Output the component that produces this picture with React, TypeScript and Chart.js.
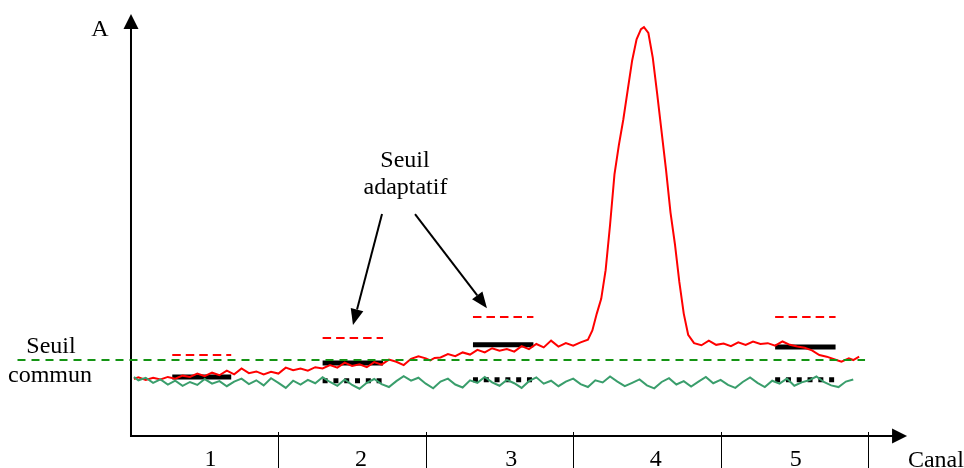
import React, { useEffect, useRef } from "react";
import { Chart, registerables } from "chart.js";
Chart.register(...registerables);

// Channel axis
const channelLabels = ["1", "2", "3", "4", "5"];
const channelBounds = [1, 2, 3, 4, 5];
const xAxisEnd = 5.265;
const yAxisTop = 100;

// Red signal (channel units, amplitude)
const redX = [0.02, 0.05, 0.10, 0.15, 0.20, 0.25, 0.30, 0.35, 0.40, 0.45, 0.50, 0.55, 0.60, 0.65, 0.70, 0.75, 0.80, 0.85, 0.90, 0.95,
  1.00, 1.05, 1.10, 1.15, 1.20, 1.25, 1.30, 1.35, 1.40, 1.45, 1.50, 1.55, 1.60, 1.65, 1.70, 1.75, 1.80, 1.85, 1.90, 1.95,
  2.00, 2.03, 2.06, 2.10, 2.15, 2.20, 2.25, 2.30, 2.35, 2.40, 2.45, 2.50, 2.55, 2.60, 2.65, 2.70, 2.75, 2.80, 2.85, 2.90, 2.95,
  3.00, 3.05, 3.10, 3.13, 3.16, 3.19, 3.22, 3.25, 3.28, 3.31, 3.34, 3.37, 3.40, 3.43, 3.46, 3.48, 3.51, 3.54, 3.57, 3.60,
  3.63, 3.66, 3.69, 3.72, 3.75, 3.78, 3.82, 3.87, 3.92, 3.97, 4.02, 4.07, 4.12, 4.17, 4.22, 4.27, 4.32, 4.37, 4.42, 4.47,
  4.52, 4.57, 4.62, 4.67, 4.72, 4.77, 4.82, 4.87, 4.90, 4.94];
const redY = [13.5, 13.9, 13.3, 13.8, 13.4, 14.0, 13.6, 14.3, 14.0, 14.8, 14.2, 15.0, 14.4, 15.5, 14.6, 16.0, 14.9, 15.3, 14.6, 15.2,
  14.8, 16.2, 15.6, 16.0, 15.5, 16.3, 16.0, 16.8, 16.2, 17.4, 16.6, 17.0, 16.3, 17.5, 16.9, 18.1, 17.6, 16.8, 18.3, 18.9,
  18.4, 17.9, 18.5, 18.6, 19.4, 18.9, 19.8, 19.3, 20.4, 19.8, 20.8, 20.2, 20.6, 20.0, 21.3, 20.6, 21.8, 21.0, 22.6, 21.2, 22.0,
  21.4, 22.2, 22.8, 25.0, 29.0, 32.5, 39.3, 50.0, 62.0, 69.0, 75.0, 82.0, 89.0, 94.0, 96.4, 96.9, 95.5, 89.6, 81.0, 72.0,
  63.0, 53.0, 45.5, 36.5, 29.0, 24.0, 22.0, 21.5, 22.6, 21.6, 21.9, 21.3, 22.2, 21.6, 22.4, 21.8, 22.0, 21.4, 22.4, 21.6,
  21.2, 20.9, 20.3, 19.2, 18.8, 18.2, 17.6, 18.4, 18.0, 18.8];

// Green signal
const greenX = [0.02, 0.05, 0.10, 0.15, 0.20, 0.25, 0.30, 0.35, 0.40, 0.45, 0.50, 0.55, 0.60, 0.65, 0.70, 0.75, 0.80, 0.85, 0.90, 0.95,
  1.00, 1.05, 1.10, 1.15, 1.20, 1.25, 1.30, 1.35, 1.40, 1.45, 1.50, 1.55, 1.60, 1.65, 1.70, 1.75, 1.80, 1.85, 1.90, 1.95,
  2.00, 2.05, 2.10, 2.15, 2.20, 2.25, 2.30, 2.35, 2.40, 2.45, 2.50, 2.55, 2.60, 2.65, 2.70, 2.75, 2.80, 2.85, 2.90, 2.95,
  3.00, 3.05, 3.10, 3.15, 3.20, 3.25, 3.30, 3.35, 3.40, 3.45, 3.50, 3.55, 3.60, 3.65, 3.70, 3.75, 3.80, 3.85, 3.90, 3.95,
  4.00, 4.05, 4.10, 4.15, 4.20, 4.25, 4.30, 4.35, 4.40, 4.45, 4.50, 4.55, 4.60, 4.65, 4.70, 4.75, 4.80, 4.85, 4.90];
const greenY = [14.0, 13.2, 13.8, 12.6, 13.4, 12.2, 13.1, 11.9, 12.8, 12.1, 13.5, 12.4, 13.0, 11.8, 12.9, 13.6, 12.3, 13.2, 12.0, 13.7,
  12.6, 11.4, 13.1, 12.2, 13.3, 12.5, 13.9, 12.8, 11.9, 13.4, 12.1, 11.2, 12.6, 13.5, 12.3, 11.6, 13.0, 14.2, 13.1, 13.8,
  12.4, 11.3, 12.9, 13.6, 12.2, 11.5, 13.2, 12.6, 14.0, 12.7, 11.9, 13.3, 12.5, 11.4, 13.0, 13.9, 12.4, 13.1, 11.8, 12.9,
  13.6, 12.3, 11.6, 13.2, 12.7, 14.1, 12.9, 11.8, 12.6, 13.4, 12.0, 11.3, 12.8, 13.7, 12.2, 13.0, 11.7, 12.9, 14.0, 12.5,
  13.3, 12.1, 11.4, 12.8, 13.9, 12.6, 11.6, 13.1, 12.4, 13.6, 11.9, 12.7, 13.2, 14.1, 12.8, 12.0, 11.6, 12.9, 13.4];

// Thresholds per channel segment
const segStart = [0.28, 1.30, 2.32, 4.37];
const segEnd = [0.68, 1.71, 2.73, 4.78];
const solidLevel = [14.0, 17.3, 21.6, 21.1];
const dottedLevel = [null, 13.1, 13.3, 13.3];
const redDashLevel = [19.2, 23.2, 28.2, 28.2];
const commonThreshold = 18.0;
const commonFrom = -0.77;
const commonTo = 4.98;

// Text annotations (data coordinates, alphabetic baseline)
const textItems = [
  { text: "A", x: -0.21, y: 94.8, align: "center" },
  { text: "Seuil", x: -0.543, y: 19.67, align: "center" },
  { text: "commun", x: -0.5495, y: 12.8, align: "center" },
  { text: "Seuil", x: 1.859, y: 63.74, align: "center" },
  { text: "adaptatif", x: 1.862, y: 57.35, align: "center" },
  { text: "Canal", x: 5.271, y: -7.35, align: "left" },
];
const channelLabelX = [0.54, 1.56, 2.58, 3.56, 4.51];
const channelLabelY = -7.11;
const annotArrows = [
  { fx: 1.703, fy: 52.6, tx: 1.506, ty: 26.3 },
  { fx: 1.927, fy: 52.6, tx: 2.415, ty: 30.3 },
];

const FONT = "24px 'Liberation Serif', 'Times New Roman', serif";

function arrowHead(ctx: CanvasRenderingContext2D, fx: number, fy: number, tx: number, ty: number, len: number, half: number) {
  const ang = Math.atan2(ty - fy, tx - fx);
  const bx = tx - len * Math.cos(ang);
  const by = ty - len * Math.sin(ang);
  ctx.beginPath();
  ctx.moveTo(tx, ty);
  ctx.lineTo(bx + half * Math.sin(ang), by - half * Math.cos(ang));
  ctx.lineTo(bx - half * Math.sin(ang), by + half * Math.cos(ang));
  ctx.closePath();
  ctx.fill();
  return [bx, by];
}

const decorPlugin = {
  id: "decor",
  beforeDatasetsDraw(chart: any) {
    const ctx = chart.ctx as CanvasRenderingContext2D;
    const xs = chart.scales.x;
    const ys = chart.scales.y;
    const x0 = xs.getPixelForValue(0);
    const y0 = ys.getPixelForValue(0);
    const xEnd = xs.getPixelForValue(xAxisEnd);
    const yTop = ys.getPixelForValue(yAxisTop);
    ctx.save();
    ctx.strokeStyle = "#000";
    ctx.fillStyle = "#000";
    ctx.lineWidth = 2;
    // y axis
    ctx.beginPath();
    ctx.moveTo(x0, y0 + 1);
    ctx.lineTo(x0, yTop + 14);
    ctx.stroke();
    arrowHead(ctx, x0, y0, x0, yTop, 15, 7.5);
    // x axis
    ctx.beginPath();
    ctx.moveTo(x0 - 1, y0);
    ctx.lineTo(xEnd - 14, y0);
    ctx.stroke();
    arrowHead(ctx, x0, y0, xEnd, y0, 15, 7.5);
    // channel separators
    ctx.lineWidth = 1;
    channelBounds.forEach((b) => {
      const px = Math.round(xs.getPixelForValue(b)) + 0.5;
      ctx.beginPath();
      ctx.moveTo(px, y0 - 4);
      ctx.lineTo(px, chart.height);
      ctx.stroke();
    });
    ctx.restore();
  },
  afterDatasetsDraw(chart: any) {
    const ctx = chart.ctx as CanvasRenderingContext2D;
    const xs = chart.scales.x;
    const ys = chart.scales.y;
    ctx.save();
    ctx.fillStyle = "#000";
    ctx.strokeStyle = "#000";
    ctx.font = FONT;
    ctx.textBaseline = "alphabetic";
    textItems.forEach((t) => {
      ctx.textAlign = t.align as CanvasTextAlign;
      ctx.fillText(t.text, xs.getPixelForValue(t.x), ys.getPixelForValue(t.y));
    });
    ctx.textAlign = "center";
    channelLabels.forEach((l, i) => {
      ctx.fillText(l, xs.getPixelForValue(channelLabelX[i]), ys.getPixelForValue(channelLabelY));
    });
    ctx.lineWidth = 2;
    annotArrows.forEach((a) => {
      const fx = xs.getPixelForValue(a.fx);
      const fy = ys.getPixelForValue(a.fy);
      const tx = xs.getPixelForValue(a.tx);
      const ty = ys.getPixelForValue(a.ty);
      const [bx, by] = arrowHead(ctx, fx, fy, tx, ty, 16, 6.5);
      ctx.beginPath();
      ctx.moveTo(fx, fy);
      ctx.lineTo(bx, by);
      ctx.stroke();
    });
    ctx.restore();
  },
};

export default function App() {
  const ref = useRef<HTMLCanvasElement | null>(null);
  useEffect(() => {
    if (!ref.current) return;
    const seg = (i: number, lvl: number) => [
      { x: segStart[i], y: lvl },
      { x: segEnd[i], y: lvl },
    ];
    const datasets: any[] = [];
    datasets.push({
      data: [
        { x: commonFrom, y: commonThreshold },
        { x: commonTo, y: commonThreshold },
      ],
      borderColor: "#149414",
      borderWidth: 2,
      borderDash: [8, 6],
    });
    datasets.push({
      data: greenX.map((x, i) => ({ x, y: greenY[i] })),
      borderColor: "#3a9e6c",
      borderWidth: 2,
    });
    datasets.push({
      data: redX.map((x, i) => ({ x, y: redY[i] })),
      borderColor: "#ff0000",
      borderWidth: 2,
    });
    segStart.forEach((_, i) => {
      datasets.push({ data: seg(i, redDashLevel[i]), borderColor: "#ff0000", borderWidth: 2, borderDash: [8.5, 5] });
      datasets.push({ data: seg(i, solidLevel[i]), borderColor: "#000", borderWidth: 5 });
      const d = dottedLevel[i];
      if (d !== null) {
        datasets.push({ data: seg(i, d), borderColor: "#000", borderWidth: 5, borderDash: [5, 5.8] });
      }
    });
    datasets.forEach((d) => {
      d.pointRadius = 0;
      d.tension = 0;
      d.fill = false;
      d.borderCapStyle = "butt";
      d.clip = false;
    });
    const chart = new Chart(ref.current, {
      type: "line",
      data: { datasets },
      options: {
        animation: false,
        responsive: true,
        maintainAspectRatio: false,
        layout: { padding: 0 },
        plugins: { legend: { display: false }, tooltip: { enabled: false } },
        events: [],
        scales: {
          x: { type: "linear", min: -0.8887, max: 5.6513, display: false },
          y: { type: "linear", min: -7.583, max: 103.318, display: false },
        },
      },
      plugins: [decorPlugin],
    });
    return () => chart.destroy();
  }, []);
  return (
    <div style={{ position: "absolute", left: 0, top: 0, width: 964, height: 468, background: "#fff" }}>
      <canvas ref={ref} />
    </div>
  );
}
